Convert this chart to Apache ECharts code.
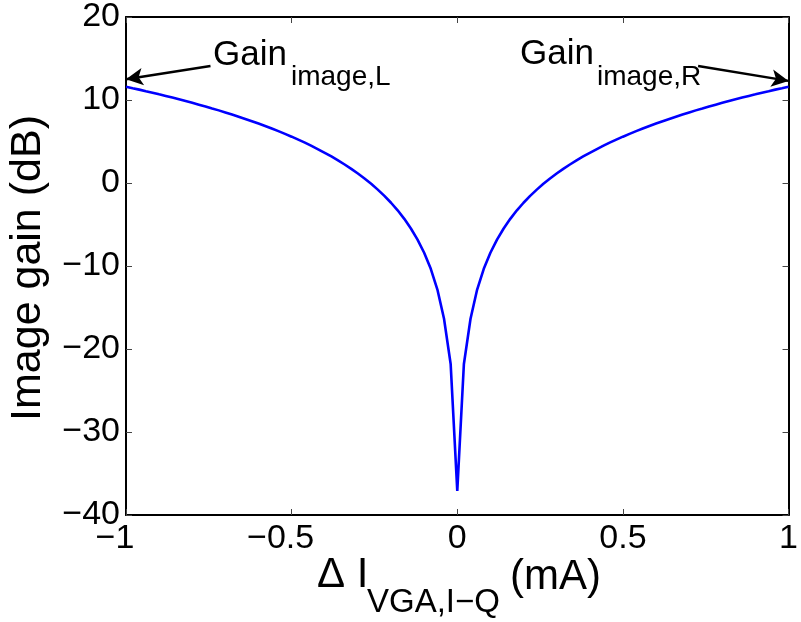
<!DOCTYPE html>
<html>
<head>
<meta charset="utf-8">
<script src="https://cdn.jsdelivr.net/npm/echarts@6/dist/echarts.min.js"></script>
<style>
  html, body { margin: 0; padding: 0; background: #fff; }
  #chart { width: 801px; height: 622px; }
</style>
</head>
<body>
<div id="chart"></div>
<script>
// Current difference ΔI (mA), sampled every 0.02 mA
const deltaI = [
  -1.00, -0.98, -0.96, -0.94, -0.92, -0.90, -0.88, -0.86, -0.84, -0.82,
  -0.80, -0.78, -0.76, -0.74, -0.72, -0.70, -0.68, -0.66, -0.64, -0.62,
  -0.60, -0.58, -0.56, -0.54, -0.52, -0.50, -0.48, -0.46, -0.44, -0.42,
  -0.40, -0.38, -0.36, -0.34, -0.32, -0.30, -0.28, -0.26, -0.24, -0.22,
  -0.20, -0.18, -0.16, -0.14, -0.12, -0.10, -0.08, -0.06, -0.04, -0.02,
  0.00,
  0.02, 0.04, 0.06, 0.08, 0.10, 0.12, 0.14, 0.16, 0.18, 0.20,
  0.22, 0.24, 0.26, 0.28, 0.30, 0.32, 0.34, 0.36, 0.38, 0.40,
  0.42, 0.44, 0.46, 0.48, 0.50, 0.52, 0.54, 0.56, 0.58, 0.60,
  0.62, 0.64, 0.66, 0.68, 0.70, 0.72, 0.74, 0.76, 0.78, 0.80,
  0.82, 0.84, 0.86, 0.88, 0.90, 0.92, 0.94, 0.96, 0.98, 1.00
];

// Image gain (dB) at each current difference
const imageGain = [
  11.60, 11.42, 11.25, 11.06, 10.88, 10.68, 10.49, 10.29, 10.09, 9.88,
  9.66, 9.44, 9.22, 8.98, 8.75, 8.50, 8.25, 7.99, 7.72, 7.45,
  7.16, 6.87, 6.56, 6.25, 5.92, 5.58, 5.22, 4.86, 4.47, 4.06,
  3.64, 3.20, 2.73, 2.23, 1.70, 1.14, 0.54, -0.10, -0.80, -1.55,
  -2.38, -3.29, -4.32, -5.48, -6.82, -8.40, -10.34, -12.84, -16.36, -21.80,
  -37.10,
  -21.80, -16.36, -12.84, -10.34, -8.40, -6.82, -5.48, -4.32, -3.29, -2.38,
  -1.55, -0.80, -0.10, 0.54, 1.14, 1.70, 2.23, 2.73, 3.20, 3.64,
  4.06, 4.47, 4.86, 5.22, 5.58, 5.92, 6.25, 6.56, 6.87, 7.16,
  7.45, 7.72, 7.99, 8.25, 8.50, 8.75, 8.98, 9.22, 9.44, 9.66,
  9.88, 10.09, 10.29, 10.49, 10.68, 10.88, 11.06, 11.25, 11.42, 11.60
];

// Axis ranges and tick steps
const xRange = [-1, 1];
const xStep = 0.5;
const yRange = [-40, 20];
const yStep = 10;

// Annotation arrows: [tail, head] in data coordinates
const arrowLeft = [[-0.745, 14.1], [-1.0, 12.5]];
const arrowRight = [[0.727, 14.1], [1.0, 12.3]];

const FONT = "'Liberation Sans', Arial, Helvetica, sans-serif";

const chart = echarts.init(document.getElementById('chart'), null, { renderer: 'canvas' });

const tickStyle = { show: true, inside: true, length: 6, lineStyle: { color: '#444', width: 1 } };
const edgeLine = { show: true, onZero: false, lineStyle: { color: '#000', width: 2 } };

// Tick text with a true minus sign
const num = v => String(+v.toFixed(2)).replace('-', '\u2212');
// Negative x labels sit a little left of their tick
const xFmt = v => (v < 0 ? '{neg|' + num(v) + '}' : num(v));

chart.setOption({
  animation: false,
  backgroundColor: '#fff',
  grid: { left: 126, right: 7, top: 13, bottom: 107, containLabel: false },
  xAxis: [
    {
      type: 'value', position: 'bottom',
      min: xRange[0], max: xRange[1], interval: xStep,
      axisLine: edgeLine, axisTick: tickStyle, splitLine: { show: false },
      axisLabel: {
        color: '#000', fontSize: 34, fontFamily: FONT, margin: 7, formatter: xFmt,
        rich: { neg: { color: '#000', fontSize: 34, fontFamily: FONT, padding: [0, 22, 0, 0] } }
      }
    },
    {
      type: 'value', position: 'top',
      min: xRange[0], max: xRange[1], interval: xStep,
      axisLine: edgeLine, axisTick: tickStyle, splitLine: { show: false },
      axisLabel: { show: false }
    }
  ],
  yAxis: [
    {
      type: 'value', position: 'left',
      min: yRange[0], max: yRange[1], interval: yStep,
      axisLine: edgeLine, axisTick: tickStyle, splitLine: { show: false },
      axisLabel: { color: '#000', fontSize: 34, fontFamily: FONT, margin: 6, formatter: num }
    },
    {
      type: 'value', position: 'right',
      min: yRange[0], max: yRange[1], interval: yStep,
      axisLine: edgeLine, axisTick: tickStyle, splitLine: { show: false },
      axisLabel: { show: false }
    }
  ],
  series: [
    {
      type: 'line',
      xAxisIndex: 0, yAxisIndex: 0,
      data: deltaI.map((x, i) => [x, imageGain[i]]),
      showSymbol: false,
      lineStyle: { color: '#0000ff', width: 2.6 },
      clip: false,
      markLine: {
        silent: true,
        symbol: ['none', 'arrow'],
        symbolSize: [13, 17],
        label: { show: false },
        lineStyle: { color: '#000', width: 2.4, type: 'solid' },
        data: [
          [{ coord: arrowLeft[0] }, { coord: arrowLeft[1] }],
          [{ coord: arrowRight[0] }, { coord: arrowRight[1] }]
        ]
      }
    }
  ],
  graphic: [
    // y-axis title
    {
      type: 'text', x: 28, y: 268, rotation: Math.PI / 2,
      style: { text: 'Image gain (dB)', font: `43px ${FONT}`, fill: '#000', align: 'center', verticalAlign: 'middle' }
    },
    // x-axis title: ΔI with subscript, then unit
    {
      type: 'text', x: 317, y: 575,
      style: { text: '\u0394 I', font: `42px ${FONT}`, fill: '#000', align: 'left', verticalAlign: 'middle' }
    },
    {
      type: 'text', x: 367, y: 603,
      style: { text: 'VGA,I\u2212Q', font: `33px ${FONT}`, fill: '#000', align: 'left', verticalAlign: 'middle' }
    },
    {
      type: 'text', x: 510, y: 577,
      style: { text: '(mA)', font: `42px ${FONT}`, fill: '#000', align: 'left', verticalAlign: 'middle' }
    },
    // left annotation
    {
      type: 'text', x: 213, y: 55,
      style: { text: 'Gain', font: `35px ${FONT}`, fill: '#000', align: 'left', verticalAlign: 'middle' }
    },
    {
      type: 'text', x: 291, y: 77,
      style: { text: 'image,L', font: `28px ${FONT}`, fill: '#000', align: 'left', verticalAlign: 'middle' }
    },
    // right annotation
    {
      type: 'text', x: 520, y: 54,
      style: { text: 'Gain', font: `35px ${FONT}`, fill: '#000', align: 'left', verticalAlign: 'middle' }
    },
    {
      type: 'text', x: 597, y: 77,
      style: { text: 'image,R', font: `28px ${FONT}`, fill: '#000', align: 'left', verticalAlign: 'middle' }
    }
  ]
});
</script>
</body>
</html>
